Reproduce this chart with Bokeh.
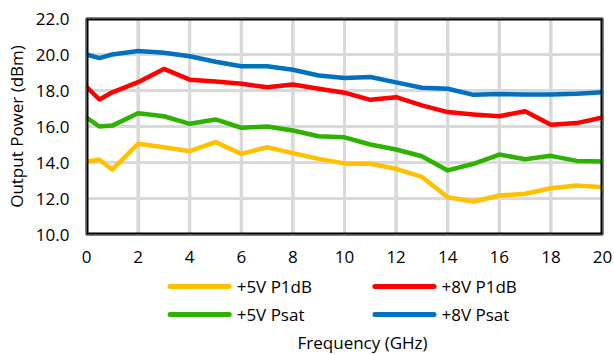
from bokeh.plotting import figure
from bokeh.models import Range1d, FixedTicker, NumeralTickFormatter
from bokeh.layouts import column
from bokeh.core.properties import value
from bokeh.embed import file_html
from bokeh.resources import INLINE

freq = [0, 0.5, 1, 2, 3, 4, 5, 6, 7, 8, 9, 10, 11, 12, 13, 14, 15, 16, 17, 18, 19, 20]
p1db_5v = [14.05, 14.15, 13.6, 15.04, 14.85, 14.63, 15.13, 14.48, 14.85, 14.52, 14.2, 13.95,
           13.93, 13.65, 13.2, 12.07, 11.83, 12.17, 12.26, 12.57, 12.72, 12.63]
p1db_8v = [18.2, 17.5, 17.9, 18.46, 19.2, 18.6, 18.5, 18.37, 18.18, 18.33, 18.1, 17.88,
           17.48, 17.63, 17.17, 16.8, 16.67, 16.57, 16.85, 16.1, 16.19, 16.5]
psat_5v = [16.5, 16.0, 16.05, 16.74, 16.57, 16.15, 16.39, 15.93, 16.0, 15.78, 15.46, 15.4,
           15.0, 14.72, 14.35, 13.56, 13.93, 14.44, 14.18, 14.37, 14.09, 14.05]
psat_8v = [20.0, 19.8, 20.0, 20.2, 20.1, 19.9, 19.6, 19.35, 19.35, 19.15, 18.83, 18.7,
           18.75, 18.45, 18.15, 18.1, 17.76, 17.8, 17.78, 17.78, 17.82, 17.9]

series_names = ["+5V P1dB", "+8V P1dB", "+5V Psat", "+8V Psat"]
series_vals = [p1db_5v, p1db_8v, psat_5v, psat_8v]
series_colors = ["#FFC000", "#FF0000", "#2EB200", "#0070C0"]

x_ticks = [0.0, 2.0, 4.0, 6.0, 8.0, 10.0, 12.0, 14.0, 16.0, 18.0, 20.0]
y_ticks = [10.0, 12.0, 14.0, 16.0, 18.0, 20.0, 22.0]
x_min, x_max = x_ticks[0], x_ticks[-1]
y_min, y_max = y_ticks[0], y_ticks[-1]
x_title = "Frequency (GHz)"
y_title = "Output Power (dBm)"

FONT = "Open Sans"
W = 614
H_MAIN = 268
H_LEG = 86

# ---------------- main chart ----------------
p = figure(width=W, height=H_MAIN, output_backend="svg", toolbar_location=None,
           x_range=Range1d(x_min, x_max), y_range=Range1d(y_min, y_max),
           min_border_left=86, min_border_top=18, min_border_right=12, min_border_bottom=34)

p.outline_line_color = "black"
p.outline_line_width = 2
p.background_fill_color = "white"
p.border_fill_color = "white"
p.xgrid.grid_line_color = "#D9D9D9"
p.ygrid.grid_line_color = "#D9D9D9"
p.xgrid.grid_line_width = 3
p.ygrid.grid_line_width = 3

p.xaxis.ticker = FixedTicker(ticks=x_ticks)
p.yaxis.ticker = FixedTicker(ticks=y_ticks)
p.yaxis.formatter = NumeralTickFormatter(format="0.0")
p.xaxis.formatter = NumeralTickFormatter(format="0")
for ax in (p.xaxis[0], p.yaxis[0]):
    ax.axis_line_color = None
    ax.major_tick_line_color = None
    ax.minor_tick_line_color = None
    ax.major_label_text_font = FONT
    ax.major_label_text_font_size = "17px"
    ax.major_label_text_color = "black"
    ax.axis_label_text_font = FONT
    ax.axis_label_text_font_size = "17px"
    ax.axis_label_text_font_style = "normal"
    ax.axis_label_text_color = "black"
p.xaxis.major_label_standoff = 10
p.yaxis.major_label_standoff = 11
p.yaxis.axis_label = y_title
p.yaxis.axis_label_standoff = 5

grid_col = "#D9D9D9"
y_mid = (y_min + y_max) / 2
x_mid = (x_min + x_max) / 2
# grid lines as thin filled bars
p.rect(x=x_ticks, y=[y_mid] * len(x_ticks), width=3, height=y_max - y_min,
       width_units="screen", fill_color=grid_col, line_color=None)
p.rect(x=[x_mid] * len(y_ticks), y=y_ticks, width=x_max - x_min, height=3,
       height_units="screen", fill_color=grid_col, line_color=None)
# and as strokes
for t in x_ticks:
    p.line([t, t + 1e-9], [y_min + 1e-9, y_max], line_color=grid_col, line_width=3)
for t in y_ticks:
    p.line([x_min + 1e-9, x_max], [t, t + 1e-9], line_color=grid_col, line_width=3)

for vals, col in zip(series_vals, series_colors):
    p.line(freq, vals, line_color=col, line_width=4.5, line_join="round", line_cap="round")

# frame border
p.rect(x=[x_min, x_max], y=[y_mid, y_mid], width=4, height=y_max - y_min,
       width_units="screen", fill_color="black", line_color=None)
p.rect(x=[x_mid, x_mid], y=[y_min, y_max], width=x_max - x_min, height=4,
       height_units="screen", fill_color="black", line_color=None)

# ---------------- legend + x title (frame aligned with the chart, x in GHz) ----------------
q = figure(width=W, height=H_LEG, output_backend="svg", toolbar_location=None,
           x_range=p.x_range, y_range=Range1d(0, H_LEG),
           x_axis_location=None, y_axis_location=None,
           min_border_left=0, min_border_right=0, min_border_top=0, min_border_bottom=0)
q.xgrid.grid_line_color = None
q.ygrid.grid_line_color = None
q.outline_line_color = None
q.background_fill_color = "white"
q.border_fill_color = "white"

col_x = [3.24, 11.18]
row_y = [68, 40]
glyph_len = 2.29
for i, (name, col) in enumerate(zip(series_names, series_colors)):
    gx = col_x[i % 2]
    gy = row_y[i // 2]
    q.line([gx, gx + glyph_len], [gy, gy], line_color=col, line_width=5, line_cap="round")
    q.text(x=[gx + glyph_len + 0.29], y=[gy], text=[name], text_align="left",
           text_baseline="middle", text_font=value(FONT), text_font_size="17px",
           text_color="black")

q.text(x=[10.7], y=[12], text=[x_title], text_align="center", text_baseline="middle",
       text_font=value(FONT), text_font_size="17px", text_color="black")

layout = column(p, q, spacing=0)
open("out.html", "w").write(file_html(layout, INLINE))
